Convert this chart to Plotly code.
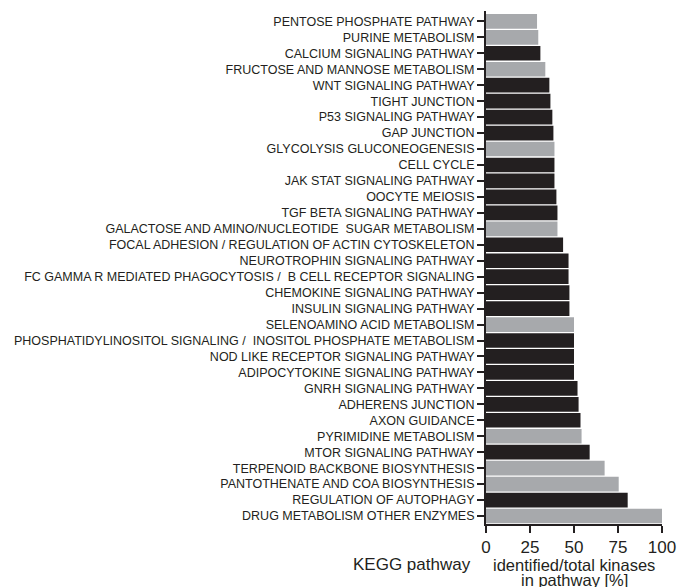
import plotly.graph_objects as go

pathways = [
    "PENTOSE PHOSPHATE PATHWAY",
    "PURINE METABOLISM",
    "CALCIUM SIGNALING PATHWAY",
    "FRUCTOSE AND MANNOSE METABOLISM",
    "WNT SIGNALING PATHWAY",
    "TIGHT JUNCTION",
    "P53 SIGNALING PATHWAY",
    "GAP JUNCTION",
    "GLYCOLYSIS GLUCONEOGENESIS",
    "CELL CYCLE",
    "JAK STAT SIGNALING PATHWAY",
    "OOCYTE MEIOSIS",
    "TGF BETA SIGNALING PATHWAY",
    "GALACTOSE AND AMINO/NUCLEOTIDE  SUGAR METABOLISM",
    "FOCAL ADHESION / REGULATION OF ACTIN CYTOSKELETON",
    "NEUROTROPHIN SIGNALING PATHWAY",
    "FC GAMMA R MEDIATED PHAGOCYTOSIS /  B CELL RECEPTOR SIGNALING",
    "CHEMOKINE SIGNALING PATHWAY",
    "INSULIN SIGNALING PATHWAY",
    "SELENOAMINO ACID METABOLISM",
    "PHOSPHATIDYLINOSITOL SIGNALING /  INOSITOL PHOSPHATE METABOLISM",
    "NOD LIKE RECEPTOR SIGNALING PATHWAY",
    "ADIPOCYTOKINE SIGNALING PATHWAY",
    "GNRH SIGNALING PATHWAY",
    "ADHERENS JUNCTION",
    "AXON GUIDANCE",
    "PYRIMIDINE METABOLISM",
    "MTOR SIGNALING PATHWAY",
    "TERPENOID BACKBONE BIOSYNTHESIS",
    "PANTOTHENATE AND COA BIOSYNTHESIS",
    "REGULATION OF AUTOPHAGY",
    "DRUG METABOLISM OTHER ENZYMES",
]

percent_identified = [
    29.0, 29.7, 30.9, 33.7, 36.0, 36.6, 37.7, 38.3, 38.9, 38.9, 38.9,
    40.0, 40.6, 40.6, 43.8, 46.9, 46.9, 47.4, 47.4, 50.0, 50.0, 50.0,
    50.0, 52.0, 52.6, 53.7, 54.3, 58.9, 67.4, 75.4, 80.5, 100.0,
]

# "metabolic" pathways drawn in gray, signaling pathways in black
is_metabolic = [
    True, True, False, True, False, False, False, False, True, False, False,
    False, False, True, False, False, False, False, False, True, False, False,
    False, False, False, False, True, False, True, True, False, True,
]

x_ticks = [0, 25, 50, 75, 100]
x_title_lines = ["identified/total kinases", "in pathway [%]"]
y_title = "KEGG pathway"

BLACK = "#231f20"
GRAY = "#a7a9ac"

colors = [GRAY if m else BLACK for m in is_metabolic]

fig = go.Figure(
    go.Bar(
        x=percent_identified,
        y=pathways,
        orientation="h",
        marker=dict(color=colors, line=dict(width=0)),
        showlegend=False,
    )
)

font_family = "Liberation Sans, Arial, sans-serif"

annotations = [
    dict(
        text=y_title,
        xref="paper", yref="paper", x=0, y=0,
        xanchor="right", yanchor="middle",
        xshift=-13, yshift=-40,
        showarrow=False,
        font=dict(size=17, family=font_family, color=BLACK),
    ),
    dict(
        text=x_title_lines[0],
        xref="paper", yref="paper", x=0.5, y=0,
        xanchor="center", yanchor="middle",
        yshift=-41,
        showarrow=False,
        font=dict(size=16.5, family=font_family, color=BLACK),
    ),
    dict(
        text=x_title_lines[1],
        xref="paper", yref="paper", x=0.5, y=0,
        xanchor="center", yanchor="middle",
        yshift=-56,
        showarrow=False,
        font=dict(size=16.5, family=font_family, color=BLACK),
    ),
]

fig.update_layout(
    width=677,
    height=587,
    margin=dict(l=486, r=15, t=11, b=63),
    paper_bgcolor="white",
    plot_bgcolor="white",
    bargap=0.08,
    font=dict(family=font_family, color=BLACK),
    xaxis=dict(
        range=[0, 100],
        tickmode="array",
        tickvals=x_ticks,
        tickangle=0,
        ticks="outside",
        ticklen=7,
        tickwidth=2,
        tickcolor=BLACK,
        showline=True,
        linecolor=BLACK,
        linewidth=2,
        showgrid=False,
        zeroline=False,
        automargin=False,
        tickfont=dict(size=17, family=font_family, color=BLACK),
    ),
    yaxis=dict(
        type="category",
        categoryorder="array",
        categoryarray=pathways,
        tickmode="array",
        tickvals=pathways,
        range=[31.5, -0.65],
        ticks="outside",
        ticklen=7,
        tickwidth=2,
        tickcolor=BLACK,
        showline=True,
        linecolor=BLACK,
        linewidth=2,
        showgrid=False,
        zeroline=False,
        automargin=False,
        tickfont=dict(size=12.5, family=font_family, color=BLACK),
    ),
    annotations=annotations,
)

fig.write_html(
    "out.html",
    config={"displayModeBar": False},
    post_script="document.body.style.margin='0';document.body.style.overflow='hidden';",
)
